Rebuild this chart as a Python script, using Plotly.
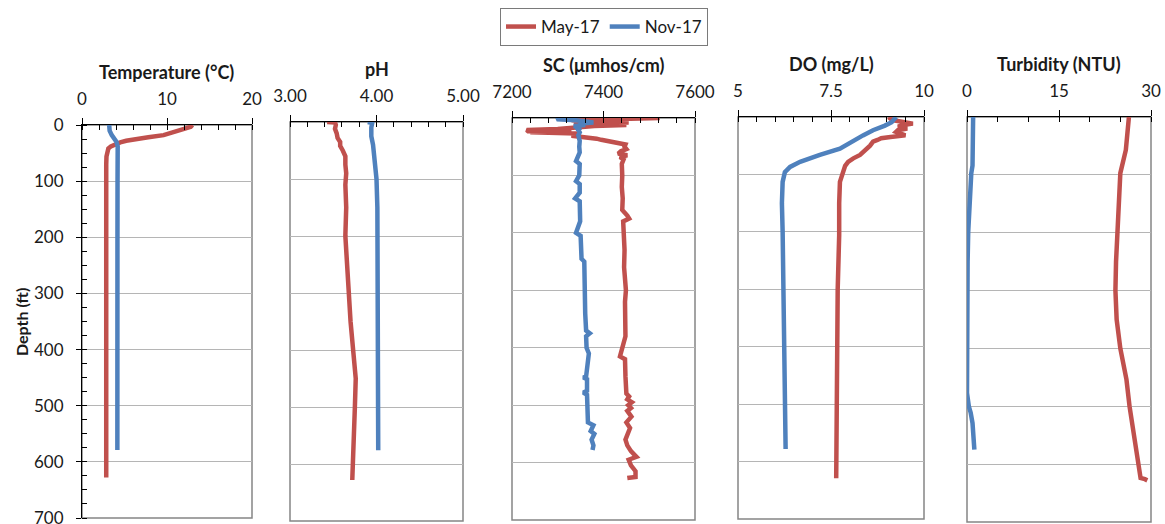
import plotly.graph_objects as go

# ---------------- data ----------------
series_names = ["May-17", "Nov-17"]

temp_may_depth = [0, 3, 6, 9, 13, 18, 22, 25, 28, 31, 34, 38, 42, 48, 56, 70, 100, 200, 300, 400, 500, 600, 628]
temp_may = [13.0, 12.8, 12.2, 11.5, 10.6, 9.6, 7.8, 6.2, 5.2, 4.5, 3.9, 3.4, 3.1, 2.95, 2.88, 2.85, 2.85, 2.85, 2.85, 2.85, 2.85, 2.85, 2.85]
temp_nov_depth = [0, 10, 18, 24, 30, 38, 50, 100, 200, 300, 400, 500, 579]
temp_nov = [3.2, 3.25, 3.5, 3.8, 4.05, 4.2, 4.22, 4.18, 4.17, 4.16, 4.16, 4.16, 4.16]

ph_may_depth = [0, 1, 5, 12, 20, 28, 35, 42, 50, 60, 75, 90, 110, 150, 200, 250, 300, 350, 400, 450, 500, 550, 600, 628]
ph_may = [3.43, 3.52, 3.53, 3.52, 3.54, 3.55, 3.58, 3.58, 3.61, 3.64, 3.64, 3.65, 3.64, 3.65, 3.64, 3.66, 3.67, 3.70, 3.73, 3.76, 3.75, 3.74, 3.73, 3.72]
ph_nov_depth = [0, 2, 10, 25, 40, 55, 70, 85, 100, 150, 200, 300, 350, 400, 500, 576]
ph_nov = [3.90, 3.95, 3.94, 3.94, 3.96, 3.97, 3.98, 3.99, 4.00, 4.01, 4.01, 4.01, 4.01, 4.02, 4.02, 4.02]

sc_may_depth = [0, 2, 4, 6, 8, 10, 12, 14, 17, 19, 21, 23, 24, 25, 27, 29, 31, 34, 36, 38, 40, 42, 44, 46,
                50, 54, 58, 62, 65, 68, 72, 80, 100, 120, 140, 160, 170, 175, 180, 200, 230, 260, 290,
                300, 320, 350, 380, 415, 420, 450, 480, 485, 490, 495, 500, 505, 510, 520, 530, 540, 550,
                560, 570, 580, 590, 595, 605, 615, 625, 627]
sc_may = [7523, 7440, 7330, 7420, 7455, 7335, 7450, 7380, 7340, 7300, 7232, 7235, 7330, 7240, 7340, 7345,
          7330, 7370, 7385, 7395, 7410, 7428, 7440, 7448, 7446, 7450, 7438, 7432, 7452, 7436, 7444, 7440,
          7441, 7440, 7442, 7441, 7452, 7456, 7443, 7445, 7446, 7445, 7447, 7449, 7447, 7447, 7448, 7436,
          7447, 7448, 7450, 7456, 7452, 7462, 7454, 7460, 7452, 7461, 7450, 7458, 7452, 7448, 7452, 7460,
          7472, 7455, 7460, 7470, 7470, 7452]
sc_nov_depth = [0, 2, 4, 6, 8, 10, 12, 14, 17, 20, 25, 30, 40, 50, 60, 75, 80, 100, 110, 115, 130, 140, 145,
                180, 200, 205, 230, 245, 250, 270, 300, 340, 370, 375, 380, 400, 410, 420, 430, 450, 452,
                455, 475, 478, 482, 530, 535, 545, 550, 560, 570, 578]
sc_nov = [7300, 7298, 7340, 7370, 7378, 7345, 7360, 7335, 7350, 7344, 7348, 7345, 7348, 7347, 7348, 7340,
          7348, 7347, 7340, 7348, 7348, 7338, 7348, 7349, 7340, 7350, 7350, 7352, 7358, 7358, 7360, 7360,
          7362, 7370, 7362, 7363, 7368, 7366, 7364, 7362, 7356, 7364, 7364, 7356, 7364, 7366, 7378, 7372,
          7380, 7374, 7378, 7376]

do_may_depth = [0, 3, 6, 9, 11.5, 14, 17, 20, 23, 26, 29, 32, 35, 37, 40, 43, 50, 55, 60, 66, 72, 78, 85,
                96, 113, 150, 206, 300, 400, 500, 600, 629]
do_may = [9.05, 9.1, 9.22, 9.5, 9.7, 9.45, 9.3, 9.55, 9.3, 9.25, 9.4, 9.5, 9.1, 8.85, 8.75, 8.63, 8.55,
          8.46, 8.4, 8.28, 8.1, 7.96, 7.88, 7.83, 7.74, 7.72, 7.72, 7.68, 7.66, 7.65, 7.64, 7.64]
do_nov_depth = [0, 3, 9, 15, 23, 32, 43, 55, 66, 78, 87, 96, 113, 150, 200, 300, 400, 500, 560, 578]
do_nov = [9.25, 9.22, 9.13, 8.95, 8.63, 8.36, 8.09, 7.74, 7.2, 6.67, 6.4, 6.26, 6.2, 6.18, 6.2, 6.22,
          6.24, 6.25, 6.25, 6.28]

turb_may_depth = [0, 57, 97, 149, 198, 250, 300, 350, 400, 454, 500, 529, 560, 600, 624, 626, 628]
turb_may = [26.4, 25.9, 25.0, 24.7, 24.5, 24.3, 24.2, 24.4, 25.0, 26.0, 26.5, 26.9, 27.3, 27.8, 28.3, 29.0, 29.4]
turb_nov_depth = [0, 50, 84, 97, 149, 198, 250, 300, 350, 400, 454, 477, 500, 511, 529, 550, 575]
turb_nov = [1.0, 0.95, 0.9, 0.7, 0.4, 0.2, 0.1, 0.1, 0.1, 0.1, 0.0, 0.0, 0.3, 0.6, 0.9, 1.0, 1.2]

panel_titles = ["Temperature (°C)", "pH", "SC (\u03bcmhos/cm)", "DO (mg/L)", "Turbidity (NTU)"]
depth_title = "Depth (ft)"

# ---------------- styling / layout ----------------
W, H = 1165, 524
RED, BLUE = "#C0504D", "#4F81BD"
FONT = "Lato"
TXT = "#1a1a1a"
GRID = "#B5B5B5"
BORDER = "#858585"

panels = [
    dict(data=[(temp_may_depth, temp_may), (temp_nov_depth, temp_nov)], rng=[0, 20], dtick=10, minor=2, fmt=None, px=(82, 252), py=(125, 518)),
    dict(data=[(ph_may_depth, ph_may), (ph_nov_depth, ph_nov)], rng=[3, 5], dtick=1, minor=0.2, fmt=".2f", px=(290, 463), py=(122, 521)),
    dict(data=[(sc_may_depth, sc_may), (sc_nov_depth, sc_nov)], rng=[7200, 7600], dtick=200, minor=40, fmt=None, px=(512, 695), py=(118, 520)),
    dict(data=[(do_may_depth, do_may), (do_nov_depth, do_nov)], rng=[5, 10], dtick=2.5, minor=0.5, fmt=None, px=(738, 924), py=(117, 519)),
    dict(data=[(turb_may_depth, turb_may), (turb_nov_depth, turb_nov)], rng=[0, 30], dtick=15, minor=5, fmt=None, px=(967, 1151), py=(117, 522)),
]

fig = go.Figure()
shapes, annotations = [], []
colors = [RED, BLUE]

for i, p in enumerate(panels):
    n = "" if i == 0 else str(i + 1)
    xa, ya = "x" + n, "y" + n
    for j, (d, v) in enumerate(p["data"]):
        fig.add_trace(go.Scatter(
            x=v, y=d, mode="lines", name=series_names[j],
            line=dict(color=colors[j], width=4.5),
            xaxis=xa, yaxis=ya, showlegend=(i == 0),
        ))
    x0, x1 = p["px"]
    y0, y1 = p["py"]
    xdom = [x0 / W, x1 / W]
    ydom = [(H - y1) / H, (H - y0) / H]
    xaxis = dict(
        domain=xdom, anchor=ya, side="top", range=p["rng"], dtick=p["dtick"], tick0=p["rng"][0],
        showline=True, linecolor="black", linewidth=1, ticks="outside", ticklen=6, tickcolor="black",
        minor=dict(dtick=p["minor"], tick0=p["rng"][0], ticks="inside", ticklen=5, tickcolor="black", showgrid=False),
        showgrid=False, zeroline=False, ticklabelstandoff=6, automargin=False, ticklabeloverflow="allow",
        tickfont=dict(family=FONT, size=17, color=TXT), fixedrange=True,
    )
    if p["fmt"]:
        xaxis["tickformat"] = p["fmt"]
    yaxis = dict(
        domain=ydom, anchor=xa, range=[700, 0], dtick=100, tick0=0, automargin=False,
        showgrid=True, gridcolor=GRID, gridwidth=1, zeroline=False, fixedrange=True,
    )
    if i == 0:
        yaxis.update(showline=True, linecolor="black", linewidth=1, ticks="outside", ticklen=5,
                     tickcolor="black", showticklabels=True, ticklabelstandoff=9, ticklabeloverflow="allow",
                     tickfont=dict(family=FONT, size=17, color=TXT),
                     minor=dict(dtick=25, ticks="inside", ticklen=5, tickcolor="black", showgrid=False))
    else:
        yaxis.update(showline=False, ticks="", showticklabels=False)
    fig.layout["xaxis" + n] = xaxis
    fig.layout["yaxis" + n] = yaxis
    shapes.append(dict(type="rect", xref=xa + " domain", yref=ya + " domain", x0=0, x1=1, y0=0, y1=1,
                       line=dict(color=BORDER, width=1.5), layer="below"))
    annotations.append(dict(text="<b>" + panel_titles[i] + "</b>", xref="paper", yref="paper",
                            x=(x0 + x1) / 2 / W, y=(H - (y0 - 53)) / H, xanchor="center", yanchor="middle",
                            showarrow=False, font=dict(family=FONT, size=18, color=TXT)))

annotations.append(dict(text="<b>" + depth_title + "</b>", xref="paper", yref="paper", x=21 / W, y=(H - 322) / H,
                        xanchor="center", yanchor="middle", textangle=-90, showarrow=False,
                        font=dict(family=FONT, size=16, color=TXT)))

fig.update_layout(
    width=W, height=H, margin=dict(l=0, r=0, t=0, b=0, autoexpand=False),
    paper_bgcolor="white", plot_bgcolor="white",
    shapes=shapes, annotations=annotations,
    legend=dict(orientation="h", x=604 / W, xanchor="center", y=1 - 8 / H, yanchor="top",
                bordercolor="#7a7a7a", borderwidth=1, bgcolor="white",
                font=dict(family=FONT, size=17, color=TXT), itemwidth=30, tracegroupgap=0),
    font=dict(family=FONT, color=TXT),
)

fig.write_html("out.html", config={"displayModeBar": False},
               post_script="document.body.style.margin='0';document.body.style.overflow='hidden';")
